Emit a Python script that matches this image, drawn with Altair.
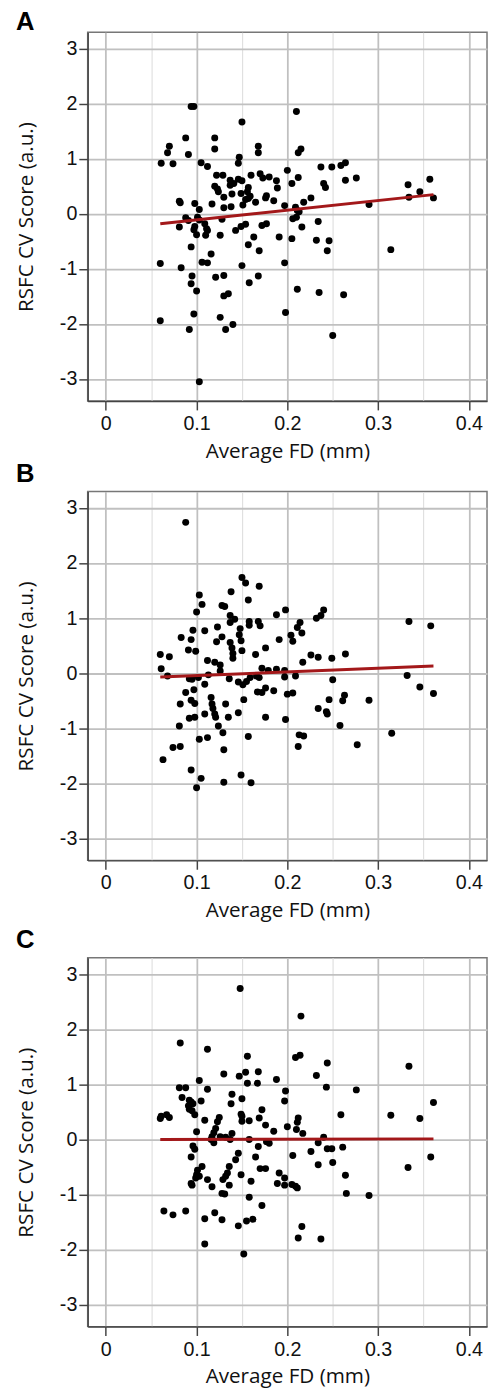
import altair as alt
import pandas as pd

# Panel A points (Average FD mm, RSFC CV score)
a_points = [
    (0.094, 1.95), (0.097, 1.95), (0.21, 1.86), (0.15, 1.67), (0.088, 1.38), (0.12, 1.38),
    (0.12, 1.18), (0.07, 1.23), (0.068, 1.11), (0.091, 1.08), (0.168, 1.23), (0.168, 1.11),
    (0.147, 1.03), (0.146, 0.92), (0.215, 1.18), (0.212, 1.11), (0.061, 0.92), (0.074, 0.91),
    (0.105, 0.93), (0.112, 0.86), (0.2, 0.79), (0.237, 0.85), (0.249, 0.85), (0.259, 0.88),
    (0.264, 0.93), (0.276, 0.65), (0.264, 0.61), (0.212, 0.66), (0.205, 0.55), (0.24, 0.55),
    (0.242, 0.48), (0.226, 0.29), (0.218, 0.21), (0.333, 0.53), (0.334, 0.3), (0.346, 0.4),
    (0.357, 0.63), (0.361, 0.29), (0.29, 0.17), (0.314, -0.65),
    (0.122, 0.70), (0.129, 0.70), (0.12, 0.5), (0.123, 0.45), (0.124, 0.4), (0.137, 0.61),
    (0.137, 0.52), (0.141, 0.55), (0.146, 0.63), (0.15, 0.6), (0.16, 0.7), (0.157, 0.48),
    (0.156, 0.4), (0.149, 0.37), (0.139, 0.36), (0.13, 0.3), (0.117, 0.18), (0.154, 0.26),
    (0.151, 0.16), (0.157, 0.28), (0.159, 0.32), (0.165, 0.21), (0.17, 0.73), (0.173, 0.65),
    (0.18, 0.67), (0.188, 0.6), (0.189, 0.47), (0.176, 0.29), (0.177, 0.33), (0.185, 0.24),
    (0.197, 0.15), (0.209, 0.12), (0.211, 0.06), (0.13, 0.11), (0.138, 0.13), (0.128, -0.1),
    (0.126, -0.39), (0.143, -0.3), (0.149, -0.23), (0.154, -0.19), (0.163, -0.42), (0.157, -0.56),
    (0.169, -0.67), (0.172, -0.21), (0.177, -0.18), (0.191, -0.42), (0.205, -0.45), (0.206, -0.09),
    (0.21, -0.06), (0.213, 0.04), (0.216, -0.24), (0.234, -0.14), (0.232, -0.48), (0.246, -0.49),
    (0.244, -0.67), (0.197, -0.89), (0.15, -0.94), (0.158, -1.25), (0.168, -1.13), (0.211, -1.37),
    (0.235, -1.43), (0.262, -1.47), (0.198, -1.79), (0.25, -2.21),
    (0.081, 0.23), (0.082, 0.2), (0.098, 0.19), (0.103, 0.08), (0.088, -0.07), (0.091, -0.12),
    (0.081, -0.24), (0.101, -0.06), (0.103, -0.11), (0.097, -0.29), (0.098, -0.23), (0.1, -0.38),
    (0.109, -0.18), (0.111, -0.27), (0.112, -0.3), (0.11, -0.39), (0.094, -0.6), (0.116, -0.73),
    (0.06, -0.9), (0.083, -0.98), (0.106, -0.88), (0.112, -0.89), (0.095, -1.13), (0.094, -1.27),
    (0.1, -1.4), (0.121, -1.15), (0.13, -1.12), (0.13, -1.49), (0.135, -1.45), (0.097, -1.82),
    (0.126, -1.88), (0.06, -1.94), (0.092, -2.1), (0.132, -2.1), (0.14, -2.01), (0.103, -3.05),
]

# Panel B points
b_points = [
    (0.088, 2.74), (0.15, 1.74), (0.154, 1.64), (0.169, 1.58), (0.138, 1.48), (0.103, 1.42),
    (0.106, 1.25), (0.157, 1.33), (0.1, 1.11), (0.128, 1.23), (0.131, 1.21), (0.198, 1.15),
    (0.188, 1.06), (0.24, 1.15), (0.237, 1.05), (0.232, 1.0), (0.137, 1.05), (0.142, 0.98),
    (0.137, 0.92), (0.158, 0.94), (0.158, 0.87), (0.168, 0.94), (0.17, 0.86), (0.148, 0.81),
    (0.147, 0.7), (0.149, 0.59), (0.214, 0.92), (0.211, 0.83), (0.216, 0.73), (0.204, 0.69),
    (0.206, 0.58), (0.191, 0.61), (0.334, 0.94), (0.358, 0.86), (0.096, 0.78), (0.094, 0.61),
    (0.083, 0.65), (0.109, 0.77), (0.123, 0.84), (0.128, 0.66), (0.122, 0.57), (0.137, 0.56),
    (0.139, 0.46), (0.14, 0.36), (0.14, 0.27), (0.15, 0.41), (0.176, 0.46), (0.165, 0.34),
    (0.091, 0.42), (0.099, 0.4), (0.06, 0.34), (0.07, 0.3), (0.061, 0.08), (0.068, -0.05),
    (0.112, 0.23), (0.12, 0.2), (0.126, 0.15), (0.126, 0.04), (0.113, -0.03), (0.226, 0.33),
    (0.234, 0.29), (0.249, 0.27), (0.264, 0.35), (0.217, 0.2), (0.172, 0.09), (0.179, 0.05),
    (0.188, 0.07), (0.197, 0.05), (0.197, -0.07), (0.209, -0.05), (0.25, -0.12), (0.332, -0.04),
    (0.346, -0.25), (0.361, -0.37), (0.092, -0.1), (0.095, -0.11), (0.102, -0.08), (0.109, -0.2),
    (0.136, -0.1), (0.146, -0.16), (0.151, -0.21), (0.155, -0.15), (0.159, -0.08), (0.169, -0.08),
    (0.166, -0.05), (0.167, -0.34), (0.172, -0.35), (0.176, -0.27), (0.185, -0.32), (0.2, -0.38),
    (0.206, -0.36), (0.088, -0.35), (0.097, -0.3), (0.094, -0.49), (0.098, -0.55), (0.082, -0.56),
    (0.116, -0.44), (0.117, -0.56), (0.118, -0.64), (0.12, -0.74), (0.121, -0.8), (0.132, -0.56),
    (0.152, -0.48), (0.146, -0.72), (0.109, -0.74), (0.092, -0.82), (0.098, -0.8), (0.135, -0.8),
    (0.176, -0.8), (0.198, -0.84), (0.234, -0.64), (0.243, -0.7), (0.244, -0.74), (0.246, -0.48),
    (0.263, -0.4), (0.261, -0.5), (0.29, -0.49), (0.258, -0.95), (0.081, -0.96), (0.124, -0.96),
    (0.129, -1.08), (0.103, -1.2), (0.112, -1.17), (0.157, -1.15), (0.213, -1.12), (0.218, -1.14),
    (0.212, -1.33), (0.277, -1.3), (0.315, -1.09), (0.074, -1.35), (0.082, -1.33), (0.13, -1.39),
    (0.063, -1.57), (0.094, -1.76), (0.105, -1.91), (0.1, -2.08), (0.13, -1.98), (0.149, -1.85),
    (0.16, -1.99),
]

# Panel C points
c_points = [
    (0.148, 2.74), (0.215, 2.24), (0.082, 1.75), (0.112, 1.64), (0.156, 1.51), (0.209, 1.49),
    (0.214, 1.53), (0.244, 1.39), (0.334, 1.33), (0.13, 1.19), (0.147, 1.15), (0.154, 1.22),
    (0.168, 1.23), (0.232, 1.16), (0.188, 1.09), (0.103, 1.07), (0.156, 1.02), (0.167, 1.02),
    (0.081, 0.94), (0.088, 0.94), (0.112, 0.91), (0.243, 0.95), (0.276, 0.9), (0.198, 0.88),
    (0.084, 0.76), (0.139, 0.82), (0.15, 0.74), (0.105, 0.7), (0.197, 0.7), (0.092, 0.71),
    (0.094, 0.68), (0.096, 0.65), (0.091, 0.61), (0.092, 0.55), (0.095, 0.52), (0.098, 0.45),
    (0.138, 0.65), (0.149, 0.46), (0.15, 0.42), (0.15, 0.33), (0.172, 0.54), (0.259, 0.45),
    (0.314, 0.44), (0.346, 0.38), (0.361, 0.67), (0.06, 0.38), (0.061, 0.42), (0.067, 0.45),
    (0.07, 0.4), (0.109, 0.35), (0.125, 0.4), (0.123, 0.32), (0.158, 0.34), (0.169, 0.39),
    (0.176, 0.26), (0.185, 0.15), (0.212, 0.39), (0.211, 0.31), (0.21, 0.18), (0.2, 0.23),
    (0.217, 0.11), (0.24, 0.04), (0.1, 0.14), (0.121, 0.2), (0.119, 0.12), (0.117, 0.05),
    (0.116, 0.0), (0.119, -0.06), (0.126, 0.05), (0.132, 0.04), (0.137, 0.0), (0.139, 0.11),
    (0.158, 0.0), (0.168, -0.13), (0.177, -0.04), (0.18, -0.07), (0.234, -0.06), (0.244, -0.17),
    (0.249, -0.17), (0.261, -0.14), (0.096, -0.12), (0.098, -0.18), (0.094, -0.32), (0.165, -0.32),
    (0.206, -0.29), (0.226, -0.22), (0.146, -0.25), (0.143, -0.37), (0.25, -0.42), (0.234, -0.46),
    (0.358, -0.32), (0.333, -0.51), (0.106, -0.49), (0.101, -0.56), (0.1, -0.64), (0.103, -0.67),
    (0.099, -0.7), (0.094, -0.8), (0.095, -0.83), (0.112, -0.73), (0.117, -0.86), (0.136, -0.49),
    (0.134, -0.61), (0.132, -0.67), (0.129, -0.73), (0.136, -0.83), (0.149, -0.64), (0.16, -0.76),
    (0.17, -0.53), (0.176, -0.53), (0.191, -0.61), (0.197, -0.7), (0.189, -0.8), (0.197, -0.83),
    (0.205, -0.82), (0.209, -0.85), (0.211, -0.88), (0.264, -0.65), (0.265, -0.98), (0.29, -1.02),
    (0.128, -0.98), (0.131, -0.99), (0.158, -1.05), (0.172, -1.2), (0.064, -1.3), (0.074, -1.37),
    (0.088, -1.3), (0.12, -1.33), (0.128, -1.46), (0.109, -1.44), (0.146, -1.57), (0.155, -1.48),
    (0.162, -1.45), (0.216, -1.58), (0.212, -1.79), (0.237, -1.81), (0.109, -1.9), (0.152, -2.08),
]

# Fitted regression lines (end points)
a_fit_x = [0.06, 0.361]
a_fit_y = [-0.18, 0.35]
b_fit_x = [0.06, 0.361]
b_fit_y = [-0.07, 0.13]
c_fit_x = [0.06, 0.361]
c_fit_y = [0.0, 0.01]

# Axis tick values (major + minor grid)
x_ticks = [0, 0.05, 0.1, 0.15, 0.2, 0.25, 0.3, 0.35, 0.4]
y_ticks = [-3, -2.5, -2, -1.5, -1, -0.5, 0, 0.5, 1, 1.5, 2, 2.5, 3]

panel_letters = ["A", "B", "C"]

x_major = "round(datum.value * 100) % 10 === 0"
y_major = "round(datum.value * 10) % 10 === 0"

LABEL_FONT = "Liberation Sans"
TITLE_FONT = "Open Sans"


def make_axis(values, test, title, label_pad, title_pad):
    return alt.Axis(
        values=values,
        title=title,
        labelExpr="(" + test + ") ? '' + datum.value : ''",
        labelFont=LABEL_FONT,
        labelFontSize=20,
        labelColor="#111",
        labelPadding=label_pad,
        titleFont=TITLE_FONT,
        titleFontSize=21,
        titleFontWeight="normal",
        titleColor="#111",
        titlePadding=title_pad,
        gridColor={"condition": {"test": test, "value": "#c0c0c0"}, "value": "#e0e0e0"},
        gridWidth={"condition": {"test": test, "value": 1.8}, "value": 1.2},
        tickOpacity={"condition": {"test": test, "value": 1}, "value": 0},
        tickColor="#444",
        tickSize=9,
        tickWidth=1.5,
        domainColor="#444",
        domainWidth=1.5,
        labelFlush=False,
        labelOverlap=False,
    )


def panel(points, fx, fy, letter, toff):
    pts = pd.DataFrame(points, columns=["fd", "score"])
    fit = pd.DataFrame({"fd": fx, "score": fy})
    x = alt.X("fd:Q", scale=alt.Scale(domain=[-0.02, 0.42], nice=False, zero=False),
              axis=make_axis(x_ticks, x_major, "Average FD (mm)", 4, 7))
    y = alt.Y("score:Q", scale=alt.Scale(domain=[-3.4, 3.3], nice=False, zero=False),
              axis=make_axis(y_ticks, y_major, "RSFC CV Score (a.u.)", 2, 23))
    dots = alt.Chart(pts).mark_circle(size=50, color="black", opacity=1).encode(x=x, y=y)
    line = alt.Chart(fit).mark_line(color="#a3181a", strokeWidth=3).encode(x="fd:Q", y="score:Q")
    return alt.layer(dots, line).properties(
        width=406, height=375,
        title=alt.TitleParams(text=letter, anchor="start", frame="bounds", fontSize=26,
                              fontWeight="bold", font="Liberation Sans", color="black",
                              offset=toff),
    )


top_pair = alt.vconcat(
    panel(a_points, a_fit_x, a_fit_y, panel_letters[0], -3),
    panel(b_points, b_fit_x, b_fit_y, panel_letters[1], 5),
    spacing=-2,
)

chart = alt.vconcat(
    top_pair,
    panel(c_points, c_fit_x, c_fit_y, panel_letters[2], 5),
    spacing=5,
).properties(
    padding={"left": 7, "top": -11, "right": 0, "bottom": 0},
    background="white",
).configure_view(
    stroke="#777", strokeWidth=1.5
)

chart.save("out.html", embed_options={"renderer": "svg", "actions": False})
